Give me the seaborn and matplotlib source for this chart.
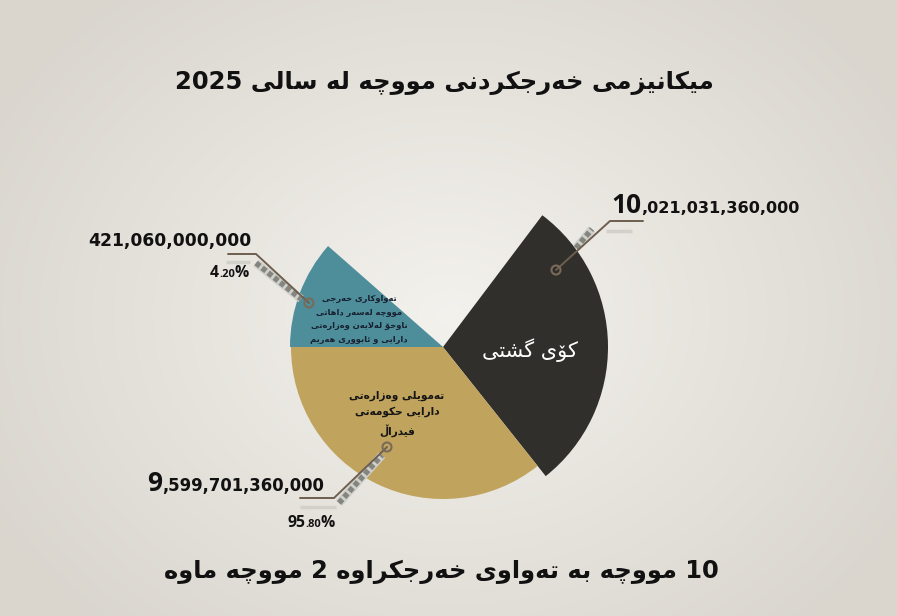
"""
Salary spending mechanism 2025 - Kurdish infographic pie
"""

import numpy as np
import matplotlib
matplotlib.use("Agg")
import matplotlib.pyplot as plt
import seaborn as sns
from matplotlib.patches import Wedge, Circle
from matplotlib import font_manager
from matplotlib.ft2font import FT2Font

sns.set_style("white")
plt.rcParams["font.family"] = ["DejaVu Sans"]

# ---- data -------------------------------------------------------------
TITLE = "میکانیزمی خەرجکردنی مووچە لە ساڵی 2025"
FOOTER = "10 مووچە بە تەواوی خەرجکراوە 2 مووچە ماوە"

SEGMENTS = ["total", "region", "federal"]
AMOUNTS = [10021031360000, 421060000000, 9599701360000]
SEGMENT_TEXT = [
    ["کۆی گشتی"],
    ["تەواوکاری خەرجی", "مووچە لەسەر داهاتی", "ناوخۆ لەلایەن وەزارەتی", "دارایی و ئابووری هەرێم"],
    ["تەمویلی وەزارەتی", "دارایی حکومەتی", "فیدراڵ"],
]

# ---- style ------------------------------------------------------------
COLORS = {"total": "#302f2b", "region": "#4d8e9a", "federal": "#c0a35c"}
SPANS = {"total": (-51.5, 53.0), "region": (138.7, 180.0), "federal": (180.0, 308.5)}
RADII = {"total": 165, "region": 153, "federal": 152}
CENTER = (443, 616 - 347)
W, H = 897, 616

# ---- minimal arabic-script shaping (matplotlib has no bidi/shaping) -----
FORMS = {
    "ا": ("\uFE8D", "\uFE8E"), "د": ("\uFEA9", "\uFEAA"), "ر": ("\uFEAD", "\uFEAE"),
    "ز": ("\uFEAF", "\uFEB0"), "و": ("\uFEED", "\uFEEE"), "ۆ": ("\uFBD9", "\uFBDA"),
    "ە": ("\u06D5", "\uFEEA"),
    "ب": ("\uFE8F", "\uFE90", "\uFE91", "\uFE92"), "ت": ("\uFE95", "\uFE96", "\uFE97", "\uFE98"),
    "ج": ("\uFE9D", "\uFE9E", "\uFE9F", "\uFEA0"), "ح": ("\uFEA1", "\uFEA2", "\uFEA3", "\uFEA4"),
    "خ": ("\uFEA5", "\uFEA6", "\uFEA7", "\uFEA8"), "س": ("\uFEB1", "\uFEB2", "\uFEB3", "\uFEB4"),
    "ش": ("\uFEB5", "\uFEB6", "\uFEB7", "\uFEB8"), "ف": ("\uFED1", "\uFED2", "\uFED3", "\uFED4"),
    "ل": ("\uFEDD", "\uFEDE", "\uFEDF", "\uFEE0"), "م": ("\uFEE1", "\uFEE2", "\uFEE3", "\uFEE4"),
    "ن": ("\uFEE5", "\uFEE6", "\uFEE7", "\uFEE8"), "ه": ("\uFEE9", "\uFEEA", "\uFEEB", "\uFEEC"),
    "ئ": ("\uFE89", "\uFE8A", "\uFE8B", "\uFE8C"), "ی": ("\uFBFC", "\uFBFD", "\uFBFE", "\uFBFF"),
    "ک": ("\uFB8E", "\uFB8F", "\uFB90", "\uFB91"), "گ": ("\uFB92", "\uFB93", "\uFB94", "\uFB95"),
    "چ": ("\uFB7A", "\uFB7B", "\uFB7C", "\uFB7D"),
    "ڵ": ("\u06B5", "\u06B5", "\uFEDF", "\uFEE0"), "ێ": ("\u06CE", "\u06CE", "\uFBFE", "\uFBFF"),
}
RIGHT_ONLY = {c for c, f in FORMS.items() if len(f) == 2}

_font = {}


def has_glyph(ch, bold):
    if bold not in _font:
        path = font_manager.findfont(font_manager.FontProperties(
            family="DejaVu Sans", weight="bold" if bold else "normal"))
        _font[bold] = FT2Font(path)
    return _font[bold].get_char_index(ord(ch)) != 0


def shape_word(word, bold):
    out, i = [], 0
    while i < len(word):
        c = word[i]
        if c not in FORMS:
            out.append(c)
            i += 1
            continue
        prev = word[i - 1] if i > 0 else None
        jp = prev in FORMS and prev not in RIGHT_ONLY
        if c == "ل" and i + 1 < len(word) and word[i + 1] == "ا":
            out.append("\uFEFC" if jp else "\uFEFB")
            i += 2
            continue
        nxt = word[i + 1] if i + 1 < len(word) else None
        jn = c not in RIGHT_ONLY and nxt in FORMS
        f = FORMS[c]
        g = f[3] if (jp and jn) else f[1] if jp else f[2] if jn else f[0]
        out.append(g if has_glyph(g, bold) else c)
        i += 1
    return "".join(out)


def rtl(line, bold=True):
    words = []
    for w in line.split(" "):
        if any(ch in FORMS for ch in w):
            w = shape_word(w, bold)[::-1]
        words.append(w)
    return " ".join(words[::-1])


def Y(py):
    return H - py


def mixed(ax, x, y, parts, **kw):
    """Place runs of differently sized text on one baseline."""
    r = ax.figure.canvas.get_renderer()
    for txt, size, fam in parts:
        t = ax.text(x, y, txt, fontsize=size, family=fam, ha="left",
                    va="baseline", **kw)
        x = t.get_window_extent(r).x1
    return x


def leader(ax, dot, elbow, end, chain, shadow):
    ax.plot([shadow[0][0], shadow[1][0]], [Y(shadow[0][1]), Y(shadow[1][1])],
            color="#d2d0ca", lw=2.5, zorder=3, solid_capstyle="butt")
    ax.plot([dot[0], elbow[0], end[0]], [Y(dot[1]), Y(elbow[1]), Y(end[1])],
            color="#6e5e50", lw=1.4, zorder=5, solid_joinstyle="miter")
    ax.plot([chain[0][0], chain[1][0]], [Y(chain[0][1]), Y(chain[1][1])],
            color="#cfcfcb", lw=6, zorder=4, solid_capstyle="butt")
    ax.plot([chain[0][0], chain[1][0]], [Y(chain[0][1]), Y(chain[1][1])],
            color="#85857f", lw=4, zorder=4, dashes=(0.9, 0.5))
    ax.add_patch(Circle((dot[0], Y(dot[1])), 4.5, facecolor="none",
                        edgecolor="#7a6a5a", lw=1.5, zorder=6))


fig = plt.figure(figsize=(W / 100, H / 100), dpi=100)
ax = fig.add_axes([0, 0, 1, 1])
ax.set_xlim(0, W)
ax.set_ylim(0, H)
ax.set_aspect("equal")
ax.axis("off")

# soft radial background
yy, xx = np.mgrid[0:H, 0:W]
d = np.sqrt(((xx - 450) / 520) ** 2 + ((yy - 300) / 420) ** 2)
bg = np.clip(d, 0, 1)[..., None]
light = np.array([0.955, 0.948, 0.930])
dark = np.array([0.855, 0.840, 0.810])
ax.imshow(light * (1 - bg) + dark * bg, extent=(0, W, 0, H), origin="lower", zorder=0)

# wedges
for seg in SEGMENTS:
    t1, t2 = SPANS[seg]
    ax.add_patch(Wedge(CENTER, RADII[seg], t1, t2, facecolor=COLORS[seg],
                       edgecolor="none", zorder=2))

total, region, federal = AMOUNTS
pct_region = region / total * 100
pct_federal = federal / total * 100

# titles
ax.text(W / 2 - 4, Y(83), rtl(TITLE), fontsize=17.5, fontweight="bold",
        ha="center", va="center", color="#111111")
ax.text(W / 2 - 7, Y(572), rtl(FOOTER), fontsize=17.4, fontweight="bold",
        ha="center", va="center", color="#111111")

# wedge texts
ax.text(530, Y(350), rtl(SEGMENT_TEXT[0][0], bold=False), fontsize=15,
        color="white", ha="center", va="center", zorder=7)
ax.text(359, Y(319), "\n".join(rtl(s) for s in SEGMENT_TEXT[1]), fontsize=6.0,
        fontweight="bold", color="#182030", ha="center", va="center",
        multialignment="center", linespacing=1.62, zorder=7)
ax.text(397, Y(414), "\n".join(rtl(s) for s in SEGMENT_TEXT[2]), fontsize=7.6,
        fontweight="bold", color="#151515", ha="center", va="center",
        multialignment="center", linespacing=1.7, zorder=7)

# value labels
num_font = dict(fontweight="bold", color="#111111", zorder=7)
HEAD, TAIL = "Open Sans", "DejaVu Sans"


def split_amount(v):
    s = f"{v:,}"
    head, tail = s.split(",", 1)
    return head, "," + tail


h, t = split_amount(total)
mixed(ax, 611, Y(213), [(h, 19, HEAD), (t, 11.65, TAIL)], **num_font)
leader(ax, (556, 270), (610, 221), (643, 221), ((576, 248), (592, 229)),
       ((606, 231), (632, 231)))

h, t = split_amount(federal)
mixed(ax, 147, Y(491), [(h, 19, HEAD), (t, 11.9, TAIL)], **num_font)
leader(ax, (387, 447), (334, 498), (300, 498), ((339, 503), (382, 455)),
       ((300, 507), (336, 507)))
p = f"{pct_federal:.2f}%"
mixed(ax, 287, Y(527), [(p[:2], 11.3, HEAD), (p[2:-1], 8, HEAD), ("%", 11.3, HEAD)],
      **num_font)

mixed(ax, 88, Y(246), [(f"{region:,}", 12.3, TAIL)], **num_font)
leader(ax, (309, 303), (256, 254), (228, 254), ((256, 263), (301, 299)),
       ((226, 262), (250, 262)))
p = f"{pct_region:.2f}%"
mixed(ax, 210, Y(277), [(p[:1], 11.3, HEAD), (p[1:-1], 8, HEAD), ("%", 11.3, HEAD)],
      **num_font)

fig.savefig("out.png", dpi=100)
